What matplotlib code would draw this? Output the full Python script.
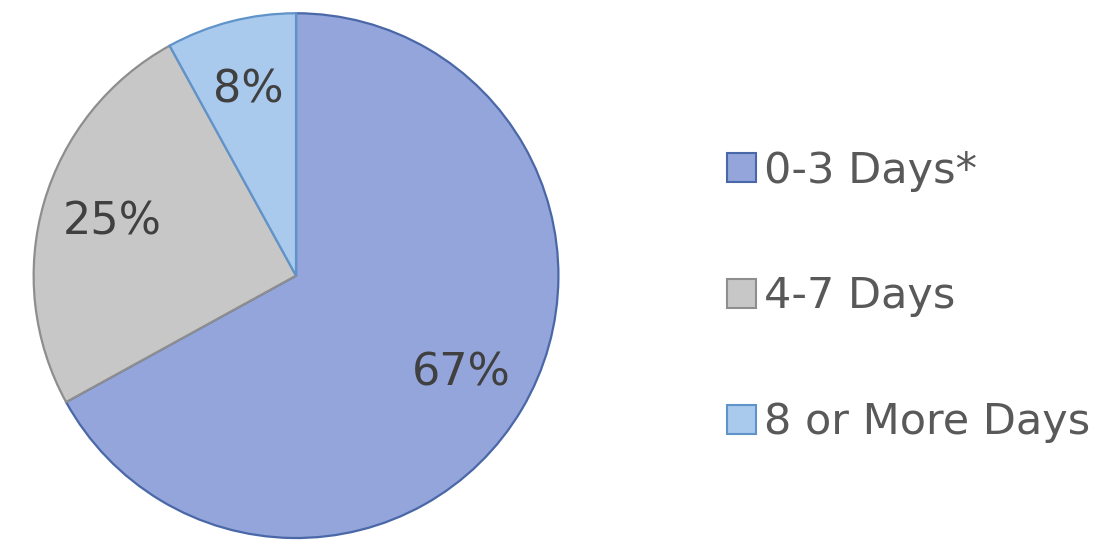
import matplotlib
matplotlib.use('Agg')
from matplotlib import pyplot as plt
from matplotlib.patches import Patch

# data
labels = ['0-3 Days*', '4-7 Days', '8 or More Days']
shares = [67, 25, 8]

face_colors = ['#93a5da', '#c7c7c7', '#a9c9ed']
edge_colors = ['#4a67a8', '#8e8e8e', '#5f93c9']

plt.rcParams['font.family'] = ['DejaVu Sans']

fig = plt.figure(figsize=(11.11, 5.41), dpi=100)
# pie centred at about (296, 275) px with a radius of about 262 px
ax = fig.add_axes([0.0302, 0.0055, 0.4725, 0.970])

wedges, texts, autotexts = ax.pie(
    shares,
    colors=face_colors,
    startangle=90,
    counterclock=False,
    autopct='%d%%',
    pctdistance=0.73,
    wedgeprops={'linewidth': 1.6},
    textprops={'fontsize': 32, 'color': '#404040'},
)
for w, ec in zip(wedges, edge_colors):
    w.set_edgecolor(ec)
ax.set_xlim(-1.0, 1.0)
ax.set_ylim(-1.0, 1.0)
ax.set_aspect('equal')
ax.axis('off')

handles = [Patch(facecolor=fc, edgecolor=ec, linewidth=1.5)
           for fc, ec in zip(face_colors, edge_colors)]
fig.legend(handles, labels,
           loc='center left',
           bbox_to_anchor=(0.654, 0.452),
           frameon=False,
           fontsize=31,
           labelcolor='#595959',
           handlelength=0.68,
           handleheight=0.68,
           handletextpad=0.2,
           labelspacing=1.95,
           borderpad=0,
           borderaxespad=0)

fig.savefig('out.png', dpi=100)
